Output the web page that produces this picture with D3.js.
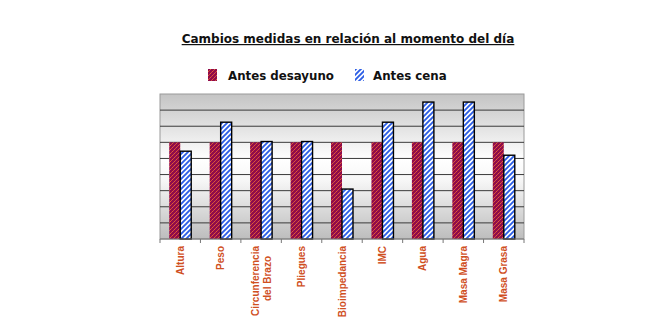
<!DOCTYPE html>
<html>
<head>
<meta charset="utf-8">
<script src="https://cdn.jsdelivr.net/npm/d3@7"></script>
<style>
  body { margin: 0; background: #fff; }
  svg { display: block; }
</style>
</head>
<body>
<div class="chart"></div>
<script>
// data (arbitrary units, no y labels shown)
var categories = ["Altura", "Peso", "Circunferencia|del Brazo", "Pliegues", "Bioimpedancia", "IMC", "Agua", "Masa Magra", "Masa Grasa"];
var antesDesayuno = [6, 6, 6, 6, 6, 6, 6, 6, 6];
var antesCena = [5.45, 7.25, 6.05, 6.05, 3.1, 7.25, 8.5, 8.5, 5.2];
var seriesNames = ["Antes desayuno", "Antes cena"];
var yTicks = [0, 1, 2, 3, 4, 5, 6, 7, 8, 9];

var width = 660, height = 330;
var plot = { left: 160, right: 524, top: 94, bottom: 239 };

var svg = d3.select(".chart").append("svg")
    .attr("width", width)
    .attr("height", height);

var defs = svg.append("defs");

// plot background gradient
var grad = defs.append("linearGradient")
    .attr("id", "bg")
    .attr("x1", 0).attr("y1", 0).attr("x2", 0).attr("y2", 1);
grad.append("stop").attr("offset", "0%").attr("stop-color", "#c4c4c4");
grad.append("stop").attr("offset", "45%").attr("stop-color", "#ffffff");
grad.append("stop").attr("offset", "60%").attr("stop-color", "#f6f6f6");
grad.append("stop").attr("offset", "100%").attr("stop-color", "#bdbdbd");

// crimson with orange speckle
var p1 = defs.append("pattern")
    .attr("id", "pDes")
    .attr("patternUnits", "userSpaceOnUse")
    .attr("width", 4).attr("height", 4);
p1.append("rect").attr("width", 4).attr("height", 4).attr("fill", "#900c4a");
p1.append("rect").attr("x", 0).attr("y", 3).attr("width", 1).attr("height", 1).attr("fill", "#e45a36");
p1.append("rect").attr("x", 1).attr("y", 2).attr("width", 1).attr("height", 1).attr("fill", "#d04a3c");
p1.append("rect").attr("x", 2).attr("y", 1).attr("width", 1).attr("height", 1).attr("fill", "#e45a36");
p1.append("rect").attr("x", 3).attr("y", 0).attr("width", 1).attr("height", 1).attr("fill", "#d04a3c");

// white with blue diagonal stripes
var p2 = defs.append("pattern")
    .attr("id", "pCena")
    .attr("patternUnits", "userSpaceOnUse")
    .attr("width", 5).attr("height", 5);
p2.append("rect").attr("width", 5).attr("height", 5).attr("fill", "#ffffff");
p2.append("path")
    .attr("d", "M-1,1 l2,-2 M0,5 l5,-5 M4,6 l2,-2")
    .attr("stroke", "#2c5ee6")
    .attr("stroke-width", 1.9);

var x = d3.scaleBand()
    .domain(categories)
    .range([plot.left, plot.right]);

var y = d3.scaleLinear()
    .domain([0, 9])
    .range([plot.bottom, plot.top]);

var barW = 11;

// title
svg.append("text")
    .attr("x", 348)
    .attr("y", 43)
    .attr("text-anchor", "middle")
    .style("font-family", "DejaVu Sans")
    .style("font-size", "12px")
    .style("font-weight", "bold")
    .style("fill", "#111")
    .style("text-decoration", "underline")
    .text("Cambios medidas en relación al momento del día");

// legend
var legend = svg.append("g");
legend.append("rect")
    .attr("x", 208).attr("y", 69).attr("width", 9).attr("height", 12)
    .attr("fill", "url(#pDes)");
legend.append("text")
    .attr("x", 228).attr("y", 80)
    .style("font-family", "DejaVu Sans")
    .style("font-size", "11.8px")
    .style("font-weight", "bold")
    .style("fill", "#111")
    .text(seriesNames[0]);
legend.append("rect")
    .attr("x", 355).attr("y", 69).attr("width", 9).attr("height", 12)
    .attr("fill", "url(#pCena)");
legend.append("text")
    .attr("x", 373).attr("y", 80)
    .style("font-family", "DejaVu Sans")
    .style("font-size", "11.8px")
    .style("font-weight", "bold")
    .style("fill", "#111")
    .text(seriesNames[1]);

// plot area
svg.append("rect")
    .attr("x", plot.left).attr("y", plot.top)
    .attr("width", plot.right - plot.left)
    .attr("height", plot.bottom - plot.top)
    .attr("fill", "url(#bg)")
    .attr("stroke", "#9a9a9a")
    .attr("stroke-width", 1);

svg.append("g")
    .selectAll("line")
    .data(yTicks.slice(1, -1))
    .enter().append("line")
    .attr("x1", plot.left).attr("x2", plot.right)
    .attr("y1", function(d){ return y(d); })
    .attr("y2", function(d){ return y(d); })
    .attr("stroke", "#3a3a3a")
    .attr("stroke-width", 1);

// bars
svg.append("g")
    .selectAll("rect")
    .data(antesDesayuno)
    .enter().append("rect")
    .attr("x", function(d, i){ return x(categories[i]) + x.bandwidth()/2 - barW; })
    .attr("y", function(d){ return y(d); })
    .attr("width", barW)
    .attr("height", function(d){ return y(0) - y(d); })
    .attr("fill", "url(#pDes)");

svg.append("g")
    .selectAll("rect")
    .data(antesCena)
    .enter().append("rect")
    .attr("x", function(d, i){ return x(categories[i]) + x.bandwidth()/2; })
    .attr("y", function(d){ return y(d); })
    .attr("width", barW)
    .attr("height", function(d){ return y(0) - y(d); })
    .attr("fill", "url(#pCena)")
    .attr("stroke", "#000")
    .attr("stroke-width", 1.4);

// x axis
var xAxis = svg.append("g")
    .attr("transform", "translate(0," + plot.bottom + ")");
xAxis.append("line")
    .attr("x1", plot.left).attr("x2", plot.right)
    .attr("stroke", "#777");
xAxis.selectAll(".tk")
    .data(categories.concat(["end"]))
    .enter().append("line")
    .attr("x1", function(d, i){ return plot.left + i * x.step(); })
    .attr("x2", function(d, i){ return plot.left + i * x.step(); })
    .attr("y1", 0).attr("y2", 4)
    .attr("stroke", "#777");

var labels = xAxis.selectAll(".lbl")
    .data(categories)
    .enter().append("text")
    .attr("transform", function(d){
        return "translate(" + (x(d) + x.bandwidth()/2) + ",7) rotate(-90)";
    })
    .attr("text-anchor", "end")
    .style("font-family", "Liberation Sans")
    .style("font-size", "10px")
    .style("font-weight", "bold")
    .style("fill", "#d0501f");

labels.each(function(d){
    var parts = d.split("|");
    var t = d3.select(this);
    parts.forEach(function(p, k){
        t.append("tspan")
            .attr("x", k === 0 ? 0 : -10)
            .attr("dy", parts.length > 1 ? (k === 0 ? -2 : 12) : 3.5)
            .text(p);
    });
});
</script>
</body>
</html>
